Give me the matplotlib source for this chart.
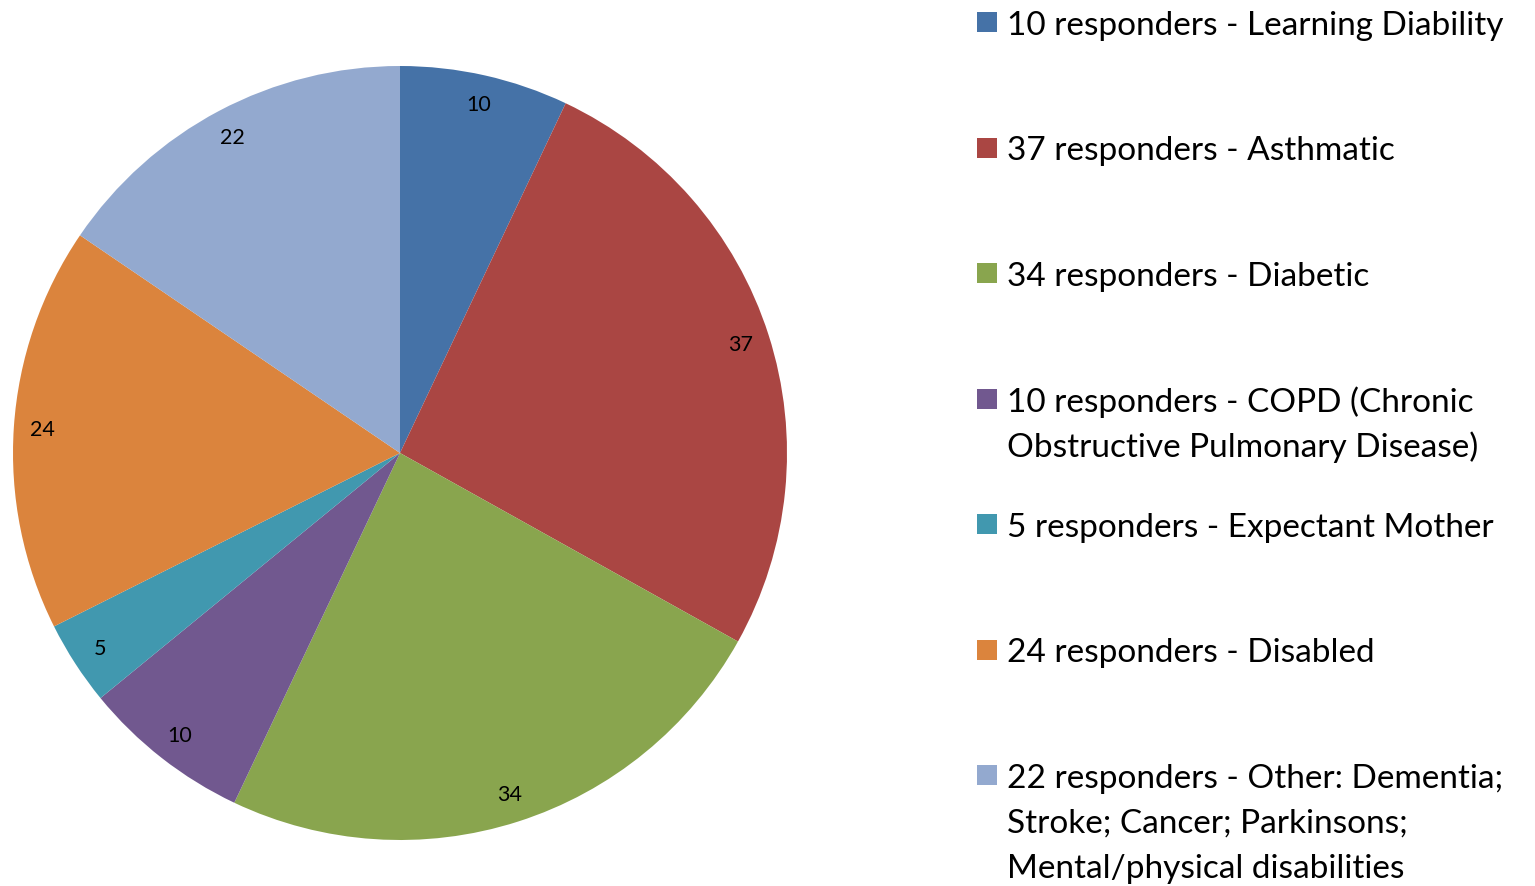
import matplotlib
matplotlib.use('Agg')
import matplotlib.pyplot as plt
from matplotlib.patches import Rectangle

plt.rcParams['font.family'] = ['Lato', 'DejaVu Sans']

# data
values = [10, 37, 34, 10, 5, 24, 22]
legend_labels = [
    '10 responders - Learning Diability',
    '37 responders - Asthmatic',
    '34 responders - Diabetic',
    '10 responders - COPD (Chronic\nObstructive Pulmonary Disease)',
    '5 responders - Expectant Mother',
    '24 responders - Disabled',
    '22 responders - Other: Dementia;\nStroke; Cancer; Parkinsons;\nMental/physical disabilities',
]
colors = ['#4572A7', '#AA4643', '#89A54E', '#71588F', '#4198AF', '#DB843D', '#93A9CF']

W, H = 1535, 887
fig = plt.figure(figsize=(W / 100, H / 100), dpi=100)

# pie axes placed in pixel coords (center ~400,454, radius ~387)
cx, cy, r = 400, 454, 387
ax = fig.add_axes([(cx - r) / W, 1 - (cy + r) / H, 2 * r / W, 2 * r / H])
ax.pie(values, colors=colors, startangle=90, counterclock=False,
       labels=[str(v) for v in values], labeldistance=0.925,
       textprops={'fontsize': 15.5, 'ha': 'center', 'va': 'center'},
       wedgeprops={'linewidth': 0})
ax.set_xlim(-1, 1)
ax.set_ylim(-1, 1)
ax.set_aspect('equal')

# legend drawn by hand
y0 = 23
step = 125.5
line_h = 45
for i, (lab, col) in enumerate(zip(legend_labels, colors)):
    y = y0 + i * step
    fig.patches.append(Rectangle((977 / W, 1 - (y + 10) / H), 20 / W, 20 / H,
                                 transform=fig.transFigure, facecolor=col,
                                 edgecolor='none'))
    for k, line in enumerate(lab.split('\n')):
        fig.text(1007 / W, 1 - (y + k * line_h) / H, line, fontsize=24,
                 ha='left', va='center_baseline')

fig.savefig('out.png', dpi=100)
